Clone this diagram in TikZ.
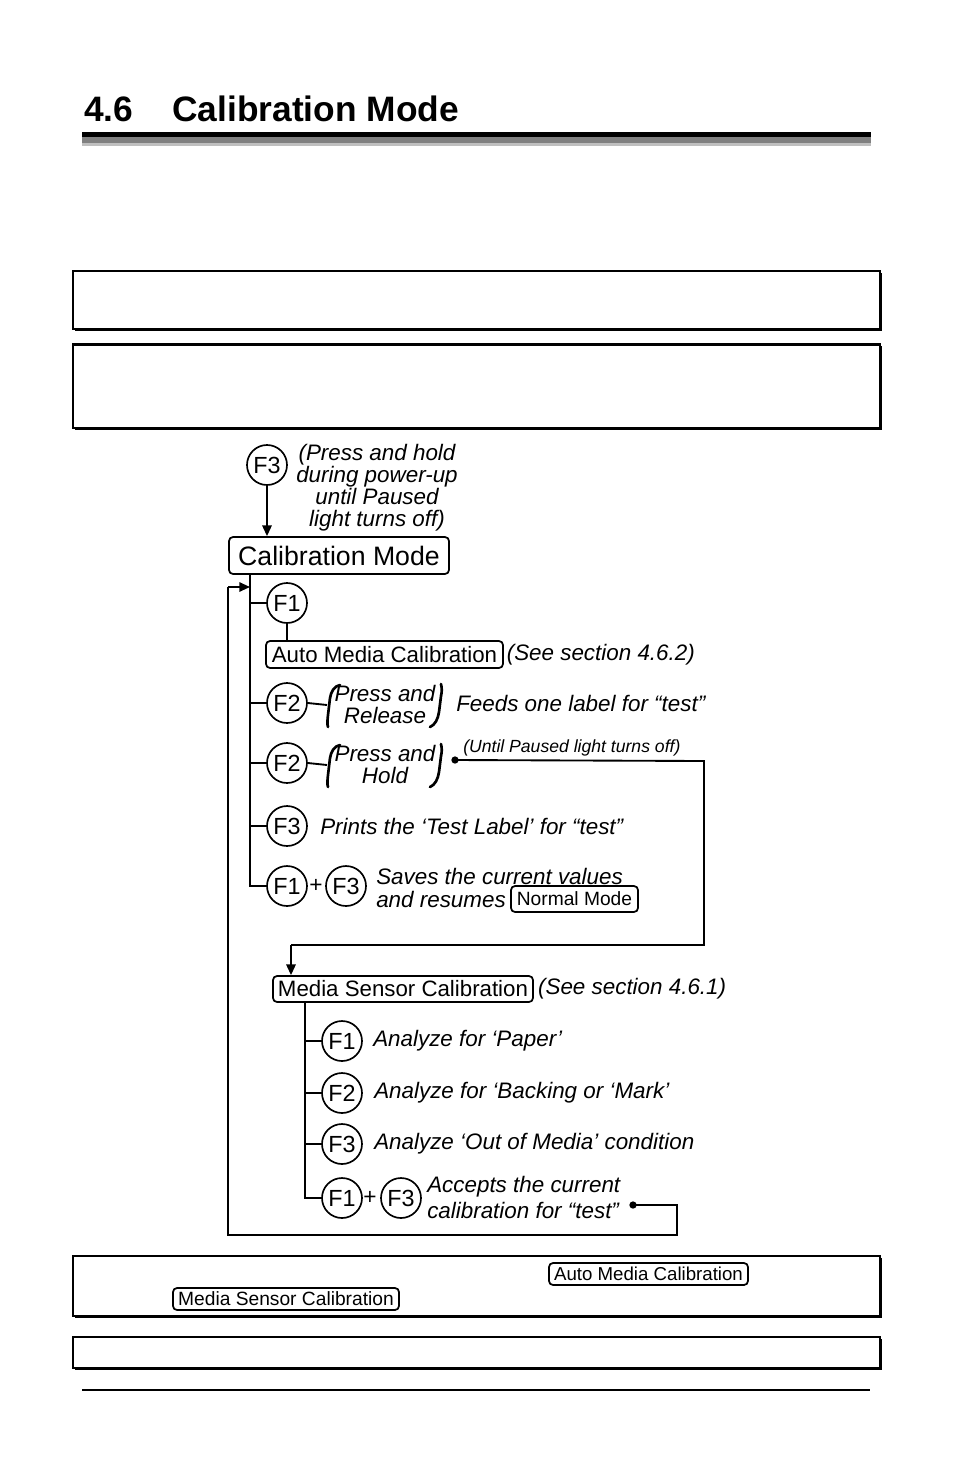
\documentclass[tikz,border=0pt]{standalone}
\usepackage{fontspec}
\setmainfont{Liberation Sans}
\usetikzlibrary{arrows.meta}
\begin{document}
\begin{tikzpicture}[x=0.75pt,y=-0.75pt,
  key/.style={circle, draw, line width=1.25pt, minimum size=30pt, inner sep=0pt, font=\fontsize{17.5}{17.5}\selectfont},
  rbox/.style={draw, rounded corners=3pt, line width=1.3pt, inner sep=0pt, font=\fontsize{16.7}{16.7}\selectfont},
  itx/.style={font=\fontsize{16.8}{16.5}\selectfont\itshape, inner sep=0pt},
  smallit/.style={font=\fontsize{13.2}{13.2}\selectfont\itshape, inner sep=0pt},
  plus/.style={font=\fontsize{17}{17}\selectfont, inner sep=0pt},
  dotnode/.style={circle, fill, inner sep=0pt, minimum size=5.5pt},
  conn/.style={line width=1.4pt},
  parenline/.style={line width=2pt, line cap=round},
  arr/.style={conn, -{Triangle[length=8pt,width=7pt]}},
  frame/.style={line width=0.9pt},
  shadow/.style={line width=2pt}]
\useasboundingbox (0,0) rectangle (954,1475);
\fill[white] (0,0) rectangle (954,1475);

% title
\node[anchor=base west, inner sep=0pt, font=\fontsize{26.5}{26.5}\selectfont\bfseries] (tnum) at (84,121) {4.6};
\node[anchor=base west, inner sep=0pt, font=\fontsize{26.5}{26.5}\selectfont\bfseries] (ttitle) at (172,121) {Calibration Mode};
\fill[black] (82,132) rectangle (871,137);
\fill[black!50] (82,137) rectangle (871,143);
\fill[black!25] (82,143) rectangle (871,146);

% empty note boxes
\draw[frame] (73,271) rectangle (880,329);
\draw[shadow] (75,329.5) -- (881,329.5) -- (881,273);
\draw[frame] (73,344) rectangle (880,428);
\draw[shadow] (73,344.5) -- (881,344.5);
\draw[shadow] (75,428.5) -- (881,428.5) -- (881,346);

% flowchart: calibration mode entry
\node[key] (k0) at (267,465) {F3};
\node[itx, align=center] (t0) at (377,488) {(Press and hold\\during power-up\\until Paused\\light turns off)};
\node[rbox, minimum width=165pt, minimum height=27.75pt, font=\fontsize{20}{20}\selectfont] (cm) at (339,555.5) {Calibration Mode};
\draw[arr] (k0) -- (k0 |- cm.north);

% main branch coordinates
\coordinate (va) at (250,574);
\coordinate (vb) at (250,886);
\coordinate (ra) at (228,587);

\node[key] (f1a) at (287,603) {F1};
\node[rbox, minimum width=177.75pt, minimum height=20.25pt] (amc) at (384.5,654.5) {Auto Media Calibration};
\node[itx, anchor=west] (amcs) at ([xshift=2pt]amc.east) {(See section 4.6.2)};

\node[key] (f2a) at (287,703) {F2};
\coordinate (lp1) at (327,705);
\draw[parenline] (340,685) .. controls (334,686) and (331,692) .. (330,698) -- (328,715) .. controls (327.5,720) and (327,724) .. (328,727);
\node[itx, align=center] (tx1) at (385,704) {Press and\\Release};
\draw[parenline] (441,684) .. controls (442,688) and (442,692) .. (441,696) -- (439,712) .. controls (438,719) and (435,725) .. (430,727);
\node[itx, anchor=west] (fd) at (456,703) {Feeds one label for “test”};

\node[key] (f2b) at (287,763) {F2};
\coordinate (lp2) at (327,765);
\draw[parenline] (340,745) .. controls (334,746) and (331,752) .. (330,758) -- (328,775) .. controls (327.5,780) and (327,784) .. (328,787);
\node[itx, align=center] (tx2) at (385,764) {Press and\\Hold};
\draw[parenline] (441,744) .. controls (442,748) and (442,752) .. (441,756) -- (439,772) .. controls (438,779) and (435,785) .. (430,787);
\node[dotnode] (d1) at (455,760) {};
\node[smallit, anchor=west] (ut) at (463,748) {(Until Paused light turns off)};

\node[key] (f3a) at (287,826) {F3};
\node[itx, anchor=west] (pt) at (320,826) {Prints the ‘Test Label’ for “test”};

\node[key] (f1b) at (287,886) {F1};
\node[plus] (pl1) at (316,886) {+};
\node[key] (f3b) at (346,886) {F3};
\node[itx, anchor=west] (sv1) at (376,876) {Saves the current values};
\node[itx, anchor=west] (sv2) at (376,899) {and resumes};
\node[rbox, minimum width=95.25pt, minimum height=19.5pt, font=\fontsize{14.4}{14.4}\selectfont] (nm) at (574.5,899) {Normal Mode};

% media sensor part
\coordinate (c1) at (704,761);
\coordinate (c2) at (704,945);
\coordinate (c3) at (291,945);
\node[rbox, minimum width=195pt, minimum height=19.5pt] (msc) at (403,989) {Media Sensor Calibration};
\node[itx, anchor=west] (mscs) at ([xshift=3pt]msc.east) {(See section 4.6.1)};

\coordinate (wa) at (305,1002);
\coordinate (wb) at (305,1198);
\node[key] (g1a) at (342,1041) {F1};
\node[itx, anchor=west] (a1) at (373,1041) {Analyze for ‘Paper’};
\node[key] (g2a) at (342,1093) {F2};
\node[itx, anchor=west] (a2) at (374,1093) {Analyze for ‘Backing or ‘Mark’};
\node[key] (g3a) at (342,1144) {F3};
\node[itx, anchor=west] (a3) at (374,1144) {Analyze ‘Out of Media’ condition};
\node[key] (g1b) at (342,1198) {F1};
\node[plus] (pl2) at (370,1198) {+};
\node[key] (g3b) at (401,1198) {F3};
\node[itx, anchor=west] (ac1) at (427,1187) {Accepts the current};
\node[itx, anchor=west] (ac2) at (427,1210) {calibration for “test”};
\node[dotnode] (d2) at (633,1205) {};
\coordinate (e1) at (677,1205);
\coordinate (e2) at (677,1235);
\coordinate (e3) at (228,1235);

% connectors
\draw[conn] (va) -- (vb) -- (f1b.west);
\draw[conn] (va |- f1a) -- (f1a.west);
\draw[conn] (f1a.south) -- (f1a.south |- amc.north);
\draw[conn] (va |- f2a) -- (f2a.west);
\draw[conn] (f2a.east) -- (lp1);
\draw[conn] (va |- f2b) -- (f2b.west);
\draw[conn] (f2b.east) -- (lp2);
\draw[conn] (va |- f3a) -- (f3a.west);
\draw[conn] (d1.center) -- (c1) -- (c2) -- (c3);
\draw[arr] (c3) -- (c3 |- msc.north);
\draw[conn] (wa) -- (wb) -- (g1b.west);
\draw[conn] (wa |- g1a) -- (g1a.west);
\draw[conn] (wa |- g2a) -- (g2a.west);
\draw[conn] (wa |- g3a) -- (g3a.west);
\draw[conn] (d2.center) -- (e1) -- (e2) -- (e3) -- (ra);
\draw[arr] (ra) -- (va |- ra);

% bottom note boxes
\draw[frame] (73,1256) rectangle (880,1316);
\draw[shadow] (75,1316.5) -- (881,1316.5) -- (881,1258);
\node[rbox, minimum width=149.25pt, minimum height=16.5pt, font=\fontsize{14}{14}\selectfont] (amc2) at (648.5,1274) {Auto Media Calibration};
\node[rbox, minimum width=169.5pt, minimum height=16.5pt, font=\fontsize{14.4}{14.4}\selectfont] (msc2) at (286,1299) {Media Sensor Calibration};
\draw[frame] (73,1337) rectangle (880,1368);
\draw[shadow] (75,1368.5) -- (881,1368.5) -- (881,1339);
\draw[line width=1.6pt] (82,1390) -- (870,1390);
\end{tikzpicture}
\end{document}
